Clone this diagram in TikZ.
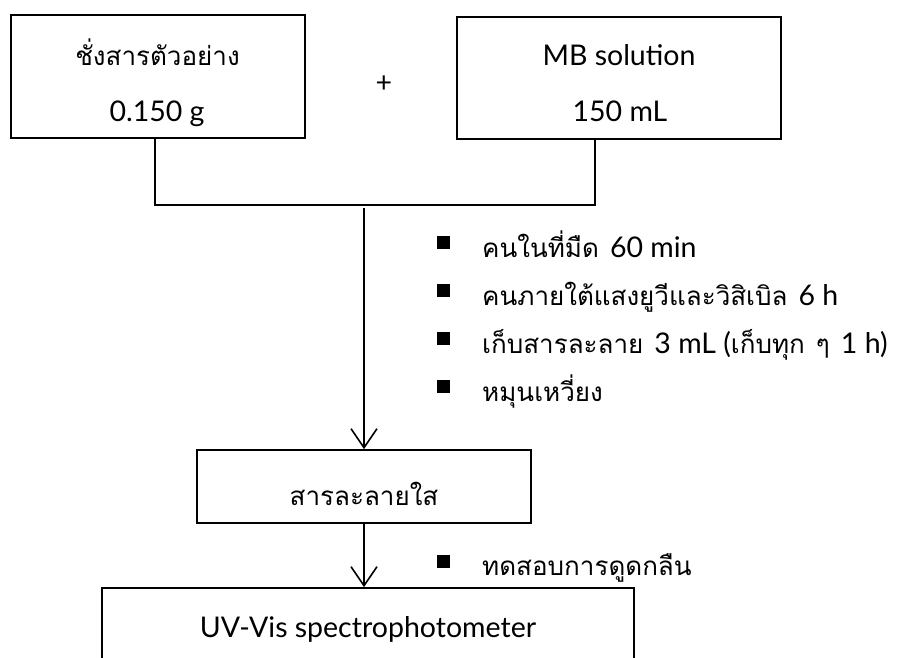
\documentclass[tikz,border=0pt]{standalone}
\usepackage{fontspec}
\newfontfamily\thaifont[Script=Thai]{Loma}
\newfontfamily\lat{Lato}
\newcommand{\thtxt}[1]{{\thaifont\fontsize{26}{30}\selectfont #1}}
\newcommand{\latxt}[1]{{\lat\fontsize{28.5}{30}\selectfont #1}}
\newcommand{\gap}{\hspace{11pt}}
\usetikzlibrary{arrows.meta}
\begin{document}
\begin{tikzpicture}[x=1pt,y=-1pt,
  box/.style={draw, line width=1.8pt, inner sep=0pt},
  conn/.style={line width=1.6pt},
  arr/.style={line width=1.6pt, -{Straight Barb[length=19pt,width=26pt,line width=1.6pt]}},
  bul/.style={fill=black, minimum size=13pt, inner sep=0pt},
  item/.style={anchor=base west, inner sep=0pt},
  txt/.style={anchor=base, inner sep=0pt}
]
\clip (0,0) rectangle (902,657);
% boxes
\node[box, minimum width=294pt, minimum height=123pt] (b1) at (158,76.5) {};
\node[box, minimum width=324pt, minimum height=122pt] (b2) at (619,78) {};
\node[box, minimum width=334pt, minimum height=73pt] (b3) at (364,486.5) {};
\node[box, minimum width=532pt, minimum height=76pt] (b4) at (368,626) {};
% box texts
\node[txt] (t1a) at (157.5,65) {\thtxt{ชั่งสารตัวอย่าง}};
\node[txt] (t1b) at (157,121) {\latxt{0.150 g}};
\node[txt] (t2a) at (619,65) {\latxt{MB solution}};
\node[txt] (t2b) at (620,121) {\latxt{150 mL}};
\node[txt] (plus) at (384,92) {\latxt{+}};
\node[txt] (t3) at (364,505) {\thtxt{สารละลายใส}};
\node[txt] (t4) at (368,637) {\latxt{UV-Vis spectrophotometer}};
% connectors
\coordinate (ja) at (155,205);
\coordinate (jb) at (595,205);
\coordinate (js) at (364,208);
\draw[conn] (b1.south -| ja) -- (ja) -- (jb) -- (b2.south -| jb);
\draw[arr] (js) -- (b3.north);
\draw[arr] (b3.south) -- (b4.north -| b3.south);
% bullet list
\node[bul] (s1) at (443.5,242.5) {};
\node[item] (i1) at (482,257) {\thtxt{คนในที่มืด}\gap\latxt{60 min}};
\node[bul] (s2) at (443.5,290.5) {};
\node[item] (i2) at (482,305) {\thtxt{คนภายใต้แสงยูวีและวิสิเบิล}\gap\latxt{6 h}};
\node[bul] (s3) at (443.5,338.5) {};
\node[item] (i3) at (482,353) {\thtxt{เก็บสารละลาย}\gap\latxt{3 mL (}\thtxt{เก็บทุก}\gap\thtxt{ๆ}\gap\latxt{1 h)}};
\node[bul] (s4) at (443.5,386.5) {};
\node[item] (i4) at (482,401) {\thtxt{หมุนเหวี่ยง}};
\node[bul] (s5) at (443.5,561) {};
\node[item] (i5) at (482,575.5) {\thtxt{ทดสอบการดูดกลืน}};
\end{tikzpicture}
\end{document}
